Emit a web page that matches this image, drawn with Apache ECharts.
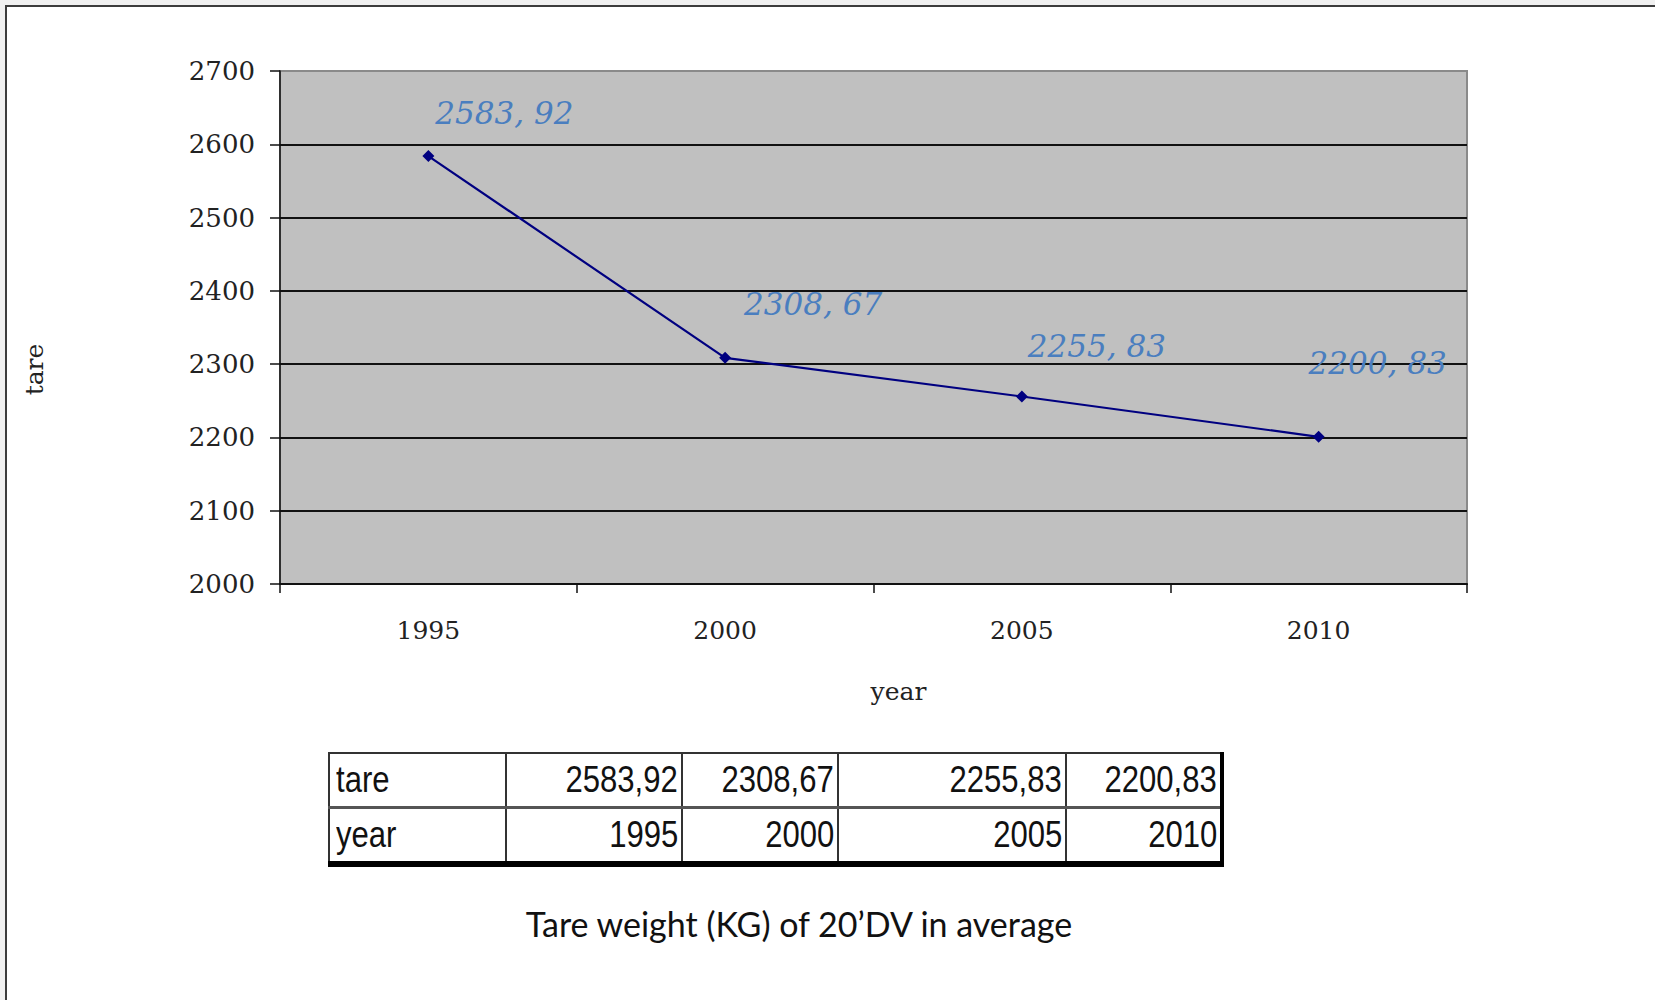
<!DOCTYPE html>
<html>
<head>
<meta charset="utf-8">
<script src="https://cdn.jsdelivr.net/npm/echarts@6/dist/echarts.min.js"></script>
<style>
  html, body { margin: 0; padding: 0; background: #f0f0f0; }
  #page { position: relative; width: 1655px; height: 1000px; overflow: hidden; }
  #frame { position: absolute; left: 5px; top: 5px; right: 0; bottom: 0; background: #fff;
           border-left: 2px solid #3c3c3c; border-top: 2px solid #3c3c3c; }
  #main { position: absolute; left: 0; top: 0; width: 1655px; height: 1000px; }
  #tbl { position: absolute; left: 328px; top: 752px; border-collapse: collapse;
         font-family: "Liberation Sans", Arial, sans-serif; font-size: 37px; color: #111;
         border-top: 2px solid #222; border-left: 2px solid #222;
         border-right: 4px solid #000; border-bottom: 6px solid #000; }
  #tbl td { border: 2px solid #333; height: 52px; padding: 0 3px; text-align: right; line-height: 52px;
            white-space: nowrap; }
  #tbl td span { display: inline-block; transform: scaleX(0.84); transform-origin: right center; }
  #tbl td.head span { transform-origin: left center; }
  #tbl tr:first-child td { border-bottom: 3px solid #555; }
  #tbl td.head { text-align: left; padding-left: 6px; }
  #caption { position: absolute; left: 0; width: 1598px; top: 903px; text-align: center;
             font-family: Lato, "Open Sans", sans-serif; font-size: 34px; color: #111; }
</style>
</head>
<body>
<div id="page">
  <div id="frame"></div>
  <div id="main"></div>
  <table id="tbl"></table>
  <div id="caption">Tare weight (KG) of 20’DV in average</div>
</div>
<script>
// values
const years = ['1995', '2000', '2005', '2010'];
const tare = [2583.92, 2308.67, 2255.83, 2200.83];
const rowNames = ['tare', 'year'];
const colWidths = [176, 176, 156, 228, 155];
// where each value label sits relative to its point
const labelOffsets = [[76, -43], [88, -54], [75, -51], [59, -74]];

const serif = '"DejaVu Serif", "Liberation Serif", serif';

// table under the chart
const tbl = document.getElementById('tbl');
const rows = [tare.map((v) => v.toFixed(2).replace('.', ',')), years];
rows.forEach((vals, r) => {
    const tr = document.createElement('tr');
    const th = document.createElement('td');
    th.className = 'head';
    th.innerHTML = '<span>' + rowNames[r] + '</span>';
    th.style.width = (colWidths[0] - 10) + 'px';
    tr.appendChild(th);
    vals.forEach((v, i) => {
        const td = document.createElement('td');
        td.innerHTML = '<span>' + v + '</span>';
        td.style.width = (colWidths[i + 1] - 8) + 'px';
        tr.appendChild(td);
    });
    tbl.appendChild(tr);
});

const chart = echarts.init(document.getElementById('main'), null, { renderer: 'svg' });

const option = {
    animation: false,
    grid: {
        left: 280, right: 188, top: 71, bottom: 416,
        show: true, backgroundColor: '#c0c0c0', borderColor: '#8a8a8a', borderWidth: 2
    },
    xAxis: {
        type: 'category',
        data: years,
        boundaryGap: true,
        name: 'year',
        nameLocation: 'middle',
        nameGap: 95,
        nameTextStyle: { fontFamily: serif, fontSize: 25, color: '#222', padding: [0, 0, 0, 50] },
        axisLine: { lineStyle: { color: '#111', width: 2 } },
        axisTick: { show: true, length: 9, lineStyle: { color: '#111', width: 1.5 } },
        axisLabel: { fontFamily: serif, fontSize: 25, color: '#222', margin: 34 },
        splitLine: { show: false }
    },
    yAxis: {
        type: 'value',
        min: 2000,
        max: 2700,
        interval: 100,
        name: 'tare',
        nameLocation: 'middle',
        nameGap: 233,
        nameRotate: 90,
        nameTextStyle: { fontFamily: serif, fontSize: 25, color: '#222', padding: [0, 84, 0, 0] },
        axisLine: { show: true, lineStyle: { color: '#111', width: 1.5 } },
        axisTick: { show: true, length: 10, lineStyle: { color: '#111', width: 1.5 } },
        axisLabel: {
            fontFamily: serif, fontSize: 26, color: '#222', margin: 25,
            formatter: (v) => String(v)
        },
        splitLine: {
            show: true,
            lineStyle: {
                color: ['#111', '#111', '#111', '#111', '#111', '#111', '#111', '#8a8a8a'],
                width: 2
            }
        }
    },
    series: [{
        type: 'line',
        data: tare.map((v, i) => ({
            value: v,
            label: { offset: labelOffsets[i] }
        })),
        symbol: 'diamond',
        symbolSize: 12,
        lineStyle: { color: '#000080', width: 2.2 },
        itemStyle: { color: '#000080' },
        label: {
            show: true,
            position: 'inside',
            formatter: (p) => p.value.toFixed(2).replace('.', ', '),
            fontFamily: serif,
            fontStyle: 'italic',
            fontSize: 31,
            color: '#4a7ebf'
        }
    }]
};

chart.setOption(option);
</script>
</body>
</html>
